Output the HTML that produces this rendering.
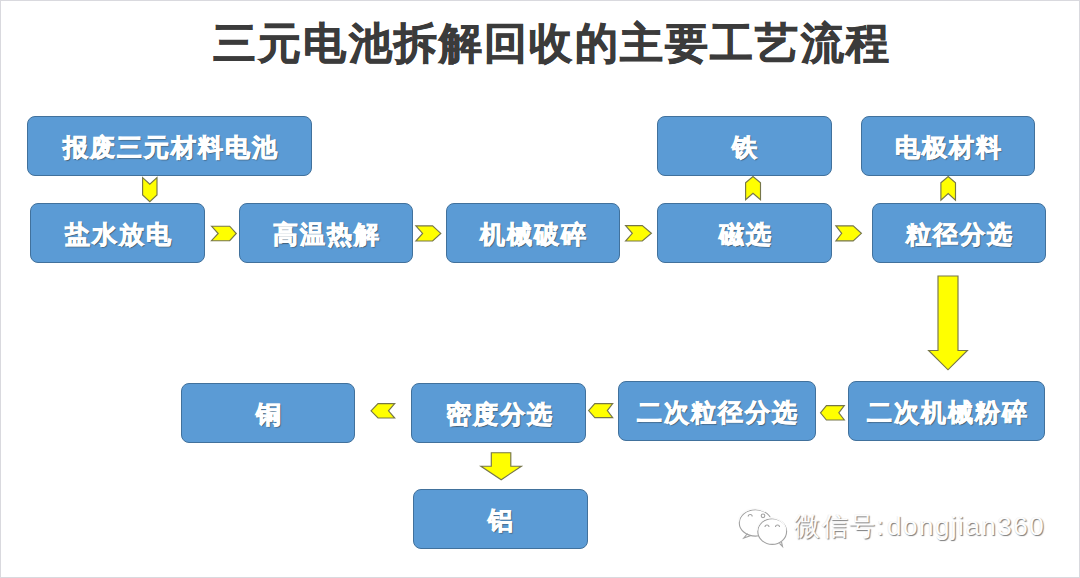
<!DOCTYPE html>
<html><head><meta charset="utf-8">
<style>
html,body{margin:0;padding:0;}
body{width:1080px;height:578px;position:relative;overflow:hidden;background:#fff;font-family:"Liberation Sans",sans-serif;}
.frame{position:absolute;left:0;top:0;width:1078px;height:576px;border:1px solid #d9d9de;}
.title{position:absolute;left:213px;top:16px;text-align:left;font-size:43px;letter-spacing:2.2px;font-weight:bold;color:#3b3b3b;line-height:54px;white-space:nowrap;-webkit-text-stroke:0.7px #3b3b3b;}
.box{position:absolute;box-sizing:border-box;background:#5b9bd5;border:1.5px solid #41719c;border-radius:8px;color:#fff;font-weight:bold;font-size:25px;letter-spacing:2px;padding:2px 0 0 2px;display:flex;align-items:center;justify-content:center;white-space:nowrap;-webkit-text-stroke:0.8px #fff;text-shadow:1px 1px 1px rgba(50,60,70,.75);}
svg.ov{position:absolute;left:0;top:0;}
.wm{position:absolute;white-space:nowrap;color:#fdfdfd;text-shadow:1px 1px 1px rgba(80,80,80,.75),-0.5px -0.5px 0 rgba(230,230,230,.6);}
</style></head><body>
<div class="frame"></div>
<div class="title">三元电池拆解回收的主要工艺流程</div>

<div class="box" style="left:27px;top:116px;width:285px;height:60px;">报废三元材料电池</div>
<div class="box" style="left:657px;top:116px;width:175px;height:60px;">铁</div>
<div class="box" style="left:861px;top:116px;width:174px;height:60px;">电极材料</div>

<div class="box" style="left:30px;top:203px;width:175px;height:60px;">盐水放电</div>
<div class="box" style="left:239px;top:203px;width:174px;height:60px;">高温热解</div>
<div class="box" style="left:446px;top:203px;width:174px;height:60px;">机械破碎</div>
<div class="box" style="left:657px;top:203px;width:175px;height:60px;">磁选</div>
<div class="box" style="left:872px;top:203px;width:174px;height:60px;">粒径分选</div>

<div class="box" style="left:181px;top:383px;width:174px;height:60px;">铜</div>
<div class="box" style="left:411px;top:383px;width:175px;height:60px;">密度分选</div>
<div class="box" style="left:618px;top:381px;width:198px;height:60px;">二次粒径分选</div>
<div class="box" style="left:848px;top:381px;width:197px;height:60px;">二次机械粉碎</div>

<div class="box" style="left:413px;top:489px;width:175px;height:60px;">铝</div>

<svg class="ov" width="1080" height="578" viewBox="0 0 1080 578">
<g fill="#ffff00" stroke="#76764a" stroke-width="1.15" stroke-linejoin="miter">
<!-- down chevron -->
<polygon points="142.6,177.6 149.8,184.2 157,177.6 157,195 149.8,201.6 142.6,195"/>
<!-- right chevrons row 2 -->
<polygon points="211.5,226.2 218.2,233.5 211.5,240.7 229.7,240.7 236.3,233.5 229.7,226.2"/>
<polygon points="415.9,225.9 422.6,233.4 415.9,241 432.6,241 440.8,233.4 432.6,225.9"/>
<polygon points="625.6,225.6 632.3,233.3 625.6,241 642.3,241 651.4,233.3 642.3,225.6"/>
<polygon points="835.9,225.9 841.7,233.3 835.9,240.8 853.2,240.8 861.4,233.3 853.2,225.9"/>
<!-- up chevrons -->
<polygon points="745.6,182.8 753,176.6 760.5,182.8 760.5,199.8 753,193.2 745.6,199.8"/>
<polygon points="940.9,182.8 948.2,176.6 955.5,182.8 955.5,200.1 948.2,193.5 940.9,200.1"/>
<!-- left chevrons row 3 -->
<polygon points="371,410.8 378,403.6 394.7,403.6 388.5,410.8 394.7,418 378,418"/>
<polygon points="588.6,410.6 594.8,403.6 612.7,403.6 607.3,410.6 612.7,417.6 594.8,417.6"/>
<polygon points="820.5,412.8 826.4,405.6 844.3,405.6 838.8,412.8 844.3,420 826.4,420"/>
<!-- big down arrow -->
<polygon points="938,276 958,276 958,350.5 967.4,350.5 948,369.8 928.6,350.5 938,350.5"/>
<!-- small down arrow -->
<polygon points="491.3,452.7 510.8,452.7 510.8,466.2 521.4,466.2 501.2,479.7 480.9,466.2 491.3,466.2"/>
</g>
<!-- wechat icon -->
<g fill="none" stroke-width="1.1" stroke="#a2a2a2">
<ellipse cx="755.6" cy="522.9" rx="16.3" ry="13.2"/>
<path d="M747.5,533.5 L743.8,538 L751,535.4"/>
<path d="M748.2,516.5 a2,2 0 0 1 4,0"/><circle cx="763" cy="515.8" r="1.8"/>
<ellipse cx="772.2" cy="531.5" rx="14.4" ry="12.9" fill="#fff"/>
<path d="M779.5,543.3 L782.5,546.5 L781.5,541.8"/>
<path d="M765,527 a2,2 0 0 1 4,0 M775.5,527 a2,2 0 0 1 4,0"/>
</g>
<g fill="none" stroke-width="1.4" stroke="#fbfbfb" transform="translate(-0.9,-0.9)">
<path d="M739.3,522.9 A16.3,13.2 0 0 1 766,512.7"/>
<path d="M757.8,531.5 A14.4,12.9 0 0 1 786.6,531.5"/>
</g>
</svg>

<div class="wm" style="left:794px;top:510px;font-size:26px;line-height:32px;letter-spacing:1.5px;">微信号:</div>
<div class="wm" style="left:887px;top:510px;font-size:26px;line-height:32px;letter-spacing:1.5px;">dongjian360</div>

</body></html>
